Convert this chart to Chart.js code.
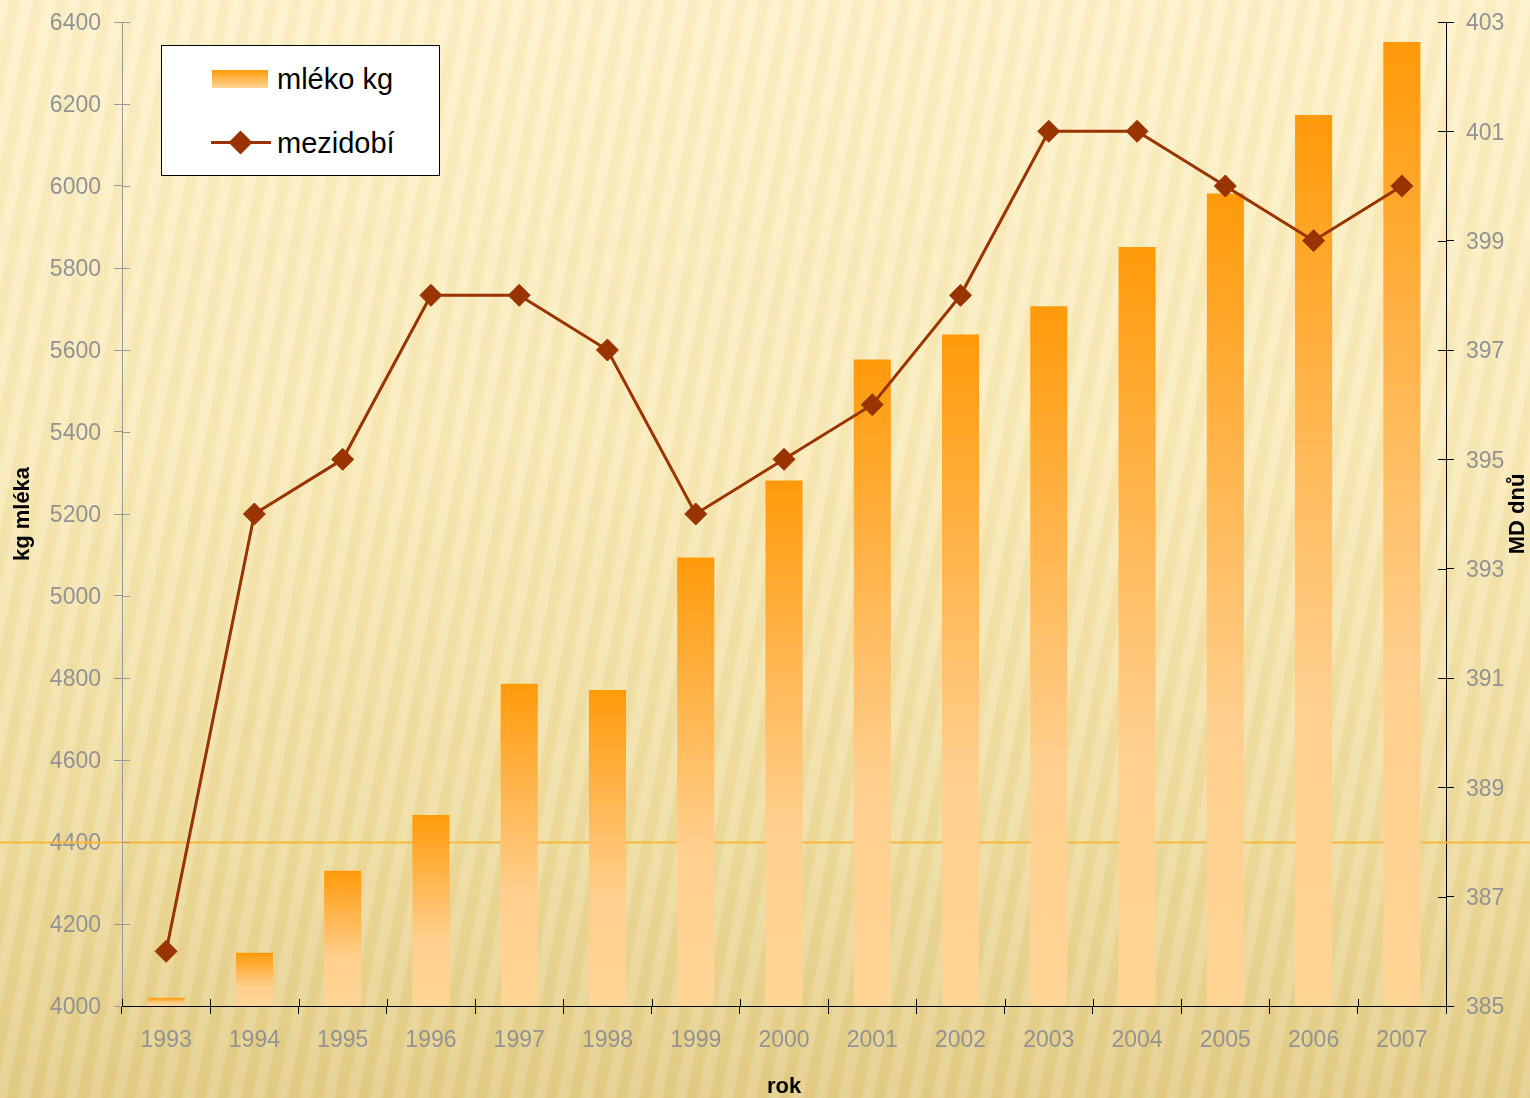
<!DOCTYPE html>
<html>
<head>
<meta charset="utf-8">
<script src="https://cdn.jsdelivr.net/npm/chart.js@4/dist/chart.umd.min.js"></script>
<style>
  html, body { margin: 0; padding: 0; }
  body {
    width: 1530px; height: 1098px; overflow: hidden;
    background:
      repeating-linear-gradient(101deg,
        rgba(255,255,255,0.13) 0px, rgba(255,255,255,0.13) 7px,
        rgba(185,145,50,0.05) 11px, rgba(185,145,50,0.05) 18px,
        rgba(255,255,255,0.13) 23px),
      linear-gradient(180deg, #fdf1c8 0%, #f9eab8 40%, #eedc9e 75%, #e3cc86 100%);
  }
  #wrap { position: relative; width: 1530px; height: 1098px; }
  #legend {
    position: absolute; left: 161px; top: 45px; width: 277px; height: 129px;
    background: #fff; border: 1px solid #000;
    font-family: "Liberation Sans", Arial, sans-serif; font-size: 29px; color: #000;
  }
  .item { position: absolute; left: 0; height: 40px; line-height: 40px; }
  .item span { position: absolute; left: 115px; white-space: nowrap; }
  .swatch {
    position: absolute; left: 50px; top: 11px; width: 56px; height: 18px;
    background: linear-gradient(180deg, #ff9a0a 0%, #ffd596 100%);
  }
  .lineSample { position: absolute; left: 49px; top: 18px; width: 60px; height: 3px; background: #993300; }
  .diamond {
    position: absolute; left: 70px; top: 11px; width: 17px; height: 17px;
    background: #993300; transform: rotate(45deg);
  }
</style>
</head>
<body>
<div id="wrap">
  <canvas id="chart" width="1530" height="1098"></canvas>
  <div id="legend"></div>
</div>
<script>
// data
var years = ['1993', '1994', '1995', '1996', '1997', '1998', '1999', '2000',
             '2001', '2002', '2003', '2004', '2005', '2006', '2007'];
var milkKg = [4020, 4130, 4330, 4466, 4786, 4771, 5094, 5282,
              5577, 5638, 5707, 5851, 5982, 6173, 6351];
var mdDays = [386, 394, 395, 398, 398, 397, 394, 395,
              396, 398, 401, 401, 400, 399, 400];
var milkLabel = 'mléko kg';
var daysLabel = 'mezidobí';

var tickFont = { family: 'Liberation Sans', size: 23 };
var titleFont = { family: 'Liberation Sans', size: 22, weight: 'bold' };
var tickGrey = '#939393';

function barGradient(context) {
  var chart = context.chart;
  if (!chart.chartArea || context.type !== 'data') return '#ffb050';
  var y = chart.scales.y;
  var top = y.getPixelForValue(context.raw);
  var base = y.getPixelForValue(y.min);
  if (!isFinite(top) || base - top < 1) return '#ffb050';
  var g = chart.ctx.createLinearGradient(0, top, 0, base);
  g.addColorStop(0, '#ff9a0a');
  g.addColorStop(0.65, '#ffcf8e');
  g.addColorStop(1, '#ffd596');
  return g;
}

// background guide line at 4400, ticks crossing the axes, right axis title
var extras = {
  id: 'extras',
  beforeDatasetsDraw: function(chart) {
    var ctx = chart.ctx;
    var yy = Math.round(chart.scales.y.getPixelForValue(4400)) + 0.5;
    ctx.save();
    ctx.strokeStyle = '#f8b83c';
    ctx.lineWidth = 2;
    ctx.beginPath();
    ctx.moveTo(0, yy);
    ctx.lineTo(chart.width, yy);
    ctx.stroke();
    ctx.restore();
  },
  afterDatasetsDraw: function(chart) {
    var ctx = chart.ctx;
    var a = chart.chartArea;
    ctx.save();
    ctx.lineWidth = 1;
    // inner half of tick marks
    ctx.strokeStyle = '#999999';
    chart.scales.y.ticks.forEach(function(t) {
      var p = Math.round(chart.scales.y.getPixelForValue(t.value)) + 0.5;
      ctx.beginPath(); ctx.moveTo(a.left, p); ctx.lineTo(a.left + 8, p); ctx.stroke();
    });
    ctx.strokeStyle = '#000000';
    chart.scales.y1.ticks.forEach(function(t) {
      var p = Math.round(chart.scales.y1.getPixelForValue(t.value)) + 0.5;
      ctx.beginPath(); ctx.moveTo(a.right - 8, p); ctx.lineTo(a.right, p); ctx.stroke();
    });
    // x axis line over the bar bases, with crossing ticks
    var yb = Math.round(a.bottom) + 0.5;
    ctx.beginPath(); ctx.moveTo(a.left, yb); ctx.lineTo(a.right + 8, yb); ctx.stroke();
    var step = (a.right - a.left) / years.length;
    for (var i = 0; i <= years.length; i++) {
      var px = Math.round(a.left + i * step) + 0.5;
      ctx.beginPath(); ctx.moveTo(px, a.bottom - 7); ctx.lineTo(px, a.bottom); ctx.stroke();
    }
    // right title reads bottom to top
    ctx.translate(1518, (a.top + a.bottom) / 2);
    ctx.rotate(-Math.PI / 2);
    ctx.font = 'bold 22px "Liberation Sans"';
    ctx.fillStyle = '#000';
    ctx.textAlign = 'center';
    ctx.textBaseline = 'middle';
    ctx.fillText('MD dnů', 0, 0);
    ctx.restore();
  }
};

var chart = new Chart(document.getElementById('chart'), {
  data: {
    labels: years,
    datasets: [{
      type: 'line',
      label: daysLabel,
      data: mdDays,
      yAxisID: 'y1',
      borderColor: '#993300',
      borderWidth: 3,
      pointStyle: 'rectRot',
      pointRadius: 11,
      pointBackgroundColor: '#993300',
      pointBorderColor: '#993300',
      pointBorderWidth: 1,
      tension: 0,
      order: 1
    }, {
      type: 'bar',
      label: milkLabel,
      data: milkKg,
      yAxisID: 'y',
      backgroundColor: barGradient,
      barPercentage: 0.42,
      categoryPercentage: 1,
      order: 2
    }]
  },
  options: {
    responsive: false,
    animation: false,
    layout: { padding: { top: 22, right: 0, left: 0, bottom: 0 } },
    plugins: { legend: { display: false }, tooltip: { enabled: false } },
    scales: {
      x: {
        offset: true,
        grid: { offset: true, drawOnChartArea: false, tickLength: 8, color: '#000', tickWidth: 1 },
        border: { color: '#000', width: 1 },
        ticks: { font: tickFont, color: tickGrey, padding: 13 },
        title: { display: true, text: 'rok', font: titleFont, color: '#000', padding: { top: 0, bottom: -2 } },
        afterFit: function(s) { s.height = 92; }
      },
      y: {
        position: 'left',
        min: 4000, max: 6400,
        ticks: {
          stepSize: 200, font: tickFont, color: tickGrey, padding: 13, labelOffset: 2,
          callback: function(v) { return String(v); }
        },
        grid: { drawOnChartArea: false, tickLength: 8, color: '#999999' },
        border: { color: '#999999', width: 1 },
        title: { display: true, text: 'kg mléka', font: titleFont, color: '#000', padding: { top: 10, bottom: 0 } },
        afterFit: function(s) { s.width = 122; s.paddingTop = 0; s.paddingBottom = 0; }
      },
      y1: {
        position: 'right',
        min: 385, max: 403,
        ticks: { stepSize: 2, font: tickFont, color: tickGrey, padding: 12, labelOffset: 2 },
        grid: { drawOnChartArea: false, tickLength: 8, color: '#000' },
        border: { color: '#000', width: 1 },
        afterFit: function(s) { s.width = 84; s.paddingTop = 0; s.paddingBottom = 0; }
      }
    }
  },
  plugins: [extras]
});

// legend box built from the dataset labels
var legend = document.getElementById('legend');
legend.innerHTML =
  '<div class="item" style="top:13px"><div class="swatch"></div><span>' + milkLabel + '</span></div>' +
  '<div class="item" style="top:77px"><div class="lineSample"></div><div class="diamond"></div><span>' + daysLabel + '</span></div>';
</script>
</body>
</html>
